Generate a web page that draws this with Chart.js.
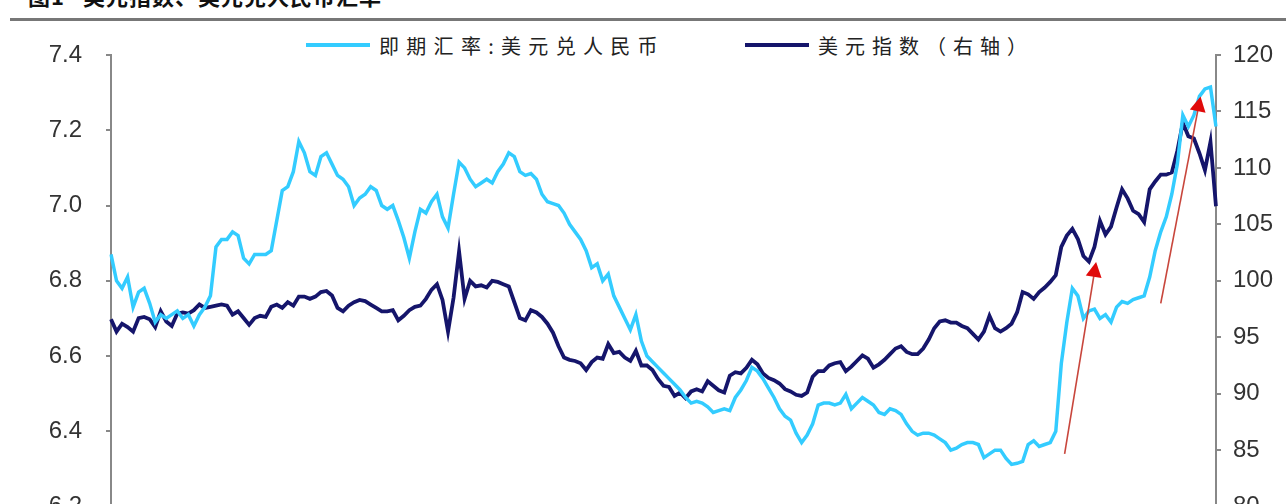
<!DOCTYPE html>
<html lang="zh">
<head>
  <meta charset="UTF-8">
  <title>美元指数、美元兑人民币汇率</title>
  <script src="https://cdn.jsdelivr.net/npm/chart.js"></script>
  <style>
    html, body { margin: 0; padding: 0; background: #fff; }
    body { width: 1286px; height: 504px; overflow: hidden; position: relative; font-family: "Liberation Sans", Arial, sans-serif; }
    #title { position: absolute; left: 28px; top: -17px; font: bold 22px/24px "Noto Sans CJK SC", sans-serif; color: #111; white-space: nowrap; letter-spacing: 1px; }
    #rule { position: absolute; left: 10px; right: 0; top: 18px; height: 3px; background: #777; }
    .leg { position: absolute; top: 33px; height: 24px; display: flex; align-items: center; font: 20px "Noto Sans CJK SC", sans-serif; color: #222; white-space: nowrap; }
    .leg i { display: inline-block; width: 64px; height: 4px; margin-right: 9px; }
    #wrap { position: absolute; left: 0; top: 0; width: 1286px; height: 545px; }
  </style>
</head>
<body>
  <div id="title">图1&nbsp;&nbsp;&nbsp;美元指数、美元兑人民币汇率</div>
  <div id="rule"></div>
  <div class="leg" style="left:306px; letter-spacing:7.3px;"><i style="background:#33CCFF"></i>即期汇率:美元兑人民币</div>
  <div class="leg" style="left:745px; letter-spacing:7px;"><i style="background:#15156b"></i>美元指数（右轴）</div>
  <div id="wrap"><canvas id="fx" width="1286" height="545"></canvas></div>

  <script>
    // weekly observations, Jan 2019 - Nov 2022
    const startDate = new Date(2019, 0, 4);
    const weeks = 201;

    const usdCny = [
      6.87, 6.80, 6.78, 6.81, 6.73, 6.77, 6.78, 6.74, 6.69, 6.71,
      6.70, 6.71, 6.72, 6.70, 6.71, 6.68, 6.71, 6.73, 6.76, 6.89,
      6.91, 6.91, 6.93, 6.92, 6.86, 6.845, 6.87, 6.87, 6.87, 6.88,
      6.96, 7.04, 7.05, 7.09, 7.17, 7.14, 7.09, 7.08, 7.13, 7.14,
      7.11, 7.08, 7.07, 7.05, 7.00, 7.02, 7.03, 7.05, 7.04, 7.00,
      6.99, 7.00, 6.96, 6.915, 6.86, 6.93, 6.99, 6.98, 7.01, 7.03,
      6.97, 6.94, 7.03, 7.115, 7.10, 7.07, 7.05, 7.06, 7.07, 7.06,
      7.09, 7.11, 7.14, 7.13, 7.09, 7.08, 7.085, 7.07, 7.03, 7.01,
      7.005, 7.00, 6.98, 6.95, 6.93, 6.91, 6.88, 6.835, 6.845, 6.80,
      6.818, 6.76, 6.73, 6.70, 6.67, 6.71, 6.64, 6.60, 6.585, 6.57,
      6.555, 6.54, 6.525, 6.51, 6.49, 6.475, 6.48, 6.475, 6.465, 6.45,
      6.455, 6.46, 6.455, 6.49, 6.51, 6.535, 6.57, 6.56, 6.54, 6.515,
      6.49, 6.46, 6.44, 6.43, 6.395, 6.37, 6.39, 6.42, 6.47, 6.475,
      6.475, 6.47, 6.475, 6.498, 6.46, 6.475, 6.49, 6.48, 6.47, 6.45,
      6.445, 6.46, 6.455, 6.445, 6.42, 6.40, 6.39, 6.395, 6.395, 6.39,
      6.38, 6.37, 6.35, 6.355, 6.365, 6.37, 6.37, 6.365, 6.33, 6.34,
      6.35, 6.35, 6.328, 6.312, 6.315, 6.32, 6.365, 6.375, 6.36, 6.365,
      6.37, 6.40, 6.58, 6.69, 6.78, 6.76, 6.70, 6.72, 6.725, 6.70,
      6.71, 6.69, 6.73, 6.745, 6.74, 6.75, 6.755, 6.76, 6.81, 6.88,
      6.93, 6.97, 7.03, 7.11, 7.24, 7.21, 7.24, 7.29, 7.31, 7.315,
      7.21
    ];

    const dollarIndex = [
      96.6, 95.5, 96.2, 95.9, 95.5, 96.7, 96.8, 96.6, 95.9, 97.3,
      96.4, 96.0, 97.1, 97.2, 97.1, 97.4, 97.9, 97.6, 97.7, 97.8,
      97.9, 97.8, 97.0, 97.3, 96.7, 96.1, 96.7, 96.9, 96.8, 97.7,
      97.9, 97.6, 98.1, 97.8, 98.6, 98.6, 98.4, 98.6, 99.0, 99.1,
      98.7, 97.6, 97.3, 97.8, 98.1, 98.3, 98.2, 97.9, 97.6, 97.3,
      97.3, 97.4, 96.5, 96.9, 97.4, 97.7, 97.8, 98.4, 99.2, 99.7,
      98.3, 95.5, 98.5, 102.6, 98.4, 100.0, 99.5, 99.6, 99.4, 100.0,
      99.9, 99.7, 99.5, 98.1, 96.7, 96.5, 97.4, 97.2, 96.8, 96.2,
      95.4, 94.2, 93.2, 93.0, 92.9, 92.7, 92.1, 92.8, 93.2, 93.1,
      94.4, 93.6, 93.7, 93.2, 92.9, 93.8, 92.5, 92.5, 92.1, 91.3,
      90.7, 90.6, 89.8, 90.1, 89.6, 90.2, 90.4, 90.2, 91.1, 90.7,
      90.3, 90.1, 91.6, 91.9, 91.8, 92.3, 93.0, 92.6, 91.8, 91.4,
      91.2, 90.9, 90.4, 90.2, 89.9, 89.8, 90.1, 91.5, 92.0, 92.0,
      92.5, 92.7, 92.8, 92.0, 92.4, 92.9, 93.4, 93.1, 92.3, 92.6,
      93.0, 93.5, 94.0, 94.2, 93.7, 93.5, 93.5, 94.0, 94.8, 95.8,
      96.4, 96.5, 96.3, 96.3, 96.0, 95.8, 95.3, 94.8, 95.5, 96.9,
      95.8, 95.5, 95.8, 96.2, 97.2, 99.0, 98.8, 98.4, 99.0, 99.4,
      99.9, 100.5, 103.0, 104.0, 104.6, 103.7, 102.2, 101.7, 103.0, 105.3,
      104.1, 104.8, 106.5, 108.1, 107.3, 106.2, 105.9, 105.2, 108.1, 108.8,
      109.4, 109.4, 109.6, 111.5, 114.0, 112.8, 112.6, 111.3, 109.8, 112.3,
      106.6
    ];

    const leftTicks = [6.2, 7.4, 0.2];   // min, max, step
    const rightTicks = [80, 120, 5];

    // red arrows: [week index, value on left axis]
    const arrowFrom = [[172.6, 6.34], [190.0, 6.74]];
    const arrowTo = [[178.3, 6.85], [197.2, 7.29]];

    const labels = [];
    for (let i = 0; i < weeks; i++) {
      const d = new Date(startDate.getTime() + i * 7 * 86400000);
      labels.push(d.getFullYear() + '-' + String(d.getMonth() + 1).padStart(2, '0') + '-' + String(d.getDate()).padStart(2, '0'));
    }

    const arrowPlugin = {
      id: 'arrows',
      afterDatasetsDraw(chart) {
        const ctx = chart.ctx, xs = chart.scales.x, ys = chart.scales.y;
        ctx.save();
        arrowFrom.forEach((f, k) => {
          const t = arrowTo[k];
          const x1 = xs.getPixelForValue(f[0]), y1 = ys.getPixelForValue(f[1]);
          const x2 = xs.getPixelForValue(t[0]), y2 = ys.getPixelForValue(t[1]);
          const a = Math.atan2(y2 - y1, x2 - x1);
          ctx.strokeStyle = '#c8463c';
          ctx.lineWidth = 1.6;
          ctx.beginPath();
          ctx.moveTo(x1, y1);
          ctx.lineTo(x2 - 10 * Math.cos(a), y2 - 10 * Math.sin(a));
          ctx.stroke();
          ctx.fillStyle = '#e00a0a';
          ctx.beginPath();
          ctx.moveTo(x2, y2);
          ctx.lineTo(x2 - 15 * Math.cos(a) + 8 * Math.sin(a), y2 - 15 * Math.sin(a) - 8 * Math.cos(a));
          ctx.lineTo(x2 - 15 * Math.cos(a) - 8 * Math.sin(a), y2 - 15 * Math.sin(a) + 8 * Math.cos(a));
          ctx.closePath();
          ctx.fill();
        });
        ctx.restore();
      }
    };

    const tickFont = { family: '"Liberation Sans", Arial, sans-serif', size: 24 };

    new Chart(document.getElementById('fx'), {
      type: 'line',
      data: {
        labels: labels,
        datasets: [
          {
            label: '即期汇率:美元兑人民币',
            data: usdCny,
            yAxisID: 'y',
            borderColor: '#33CCFF',
            borderWidth: 3.5,
            pointRadius: 0,
            tension: 0
          },
          {
            label: '美元指数（右轴）',
            data: dollarIndex,
            yAxisID: 'y1',
            borderColor: '#15156b',
            borderWidth: 3.8,
            pointRadius: 0,
            tension: 0
          }
        ]
      },
      options: {
        responsive: false,
        animation: false,
        layout: { padding: { top: 55, bottom: 15, left: 0, right: 0 } },
        plugins: { legend: { display: false }, tooltip: { enabled: false } },
        scales: {
          x: { display: false, offset: false },
          y: {
            position: 'left',
            min: leftTicks[0], max: leftTicks[1],
            ticks: { stepSize: leftTicks[2], color: '#333', font: tickFont, padding: 24, callback: v => v.toFixed(1) },
            grid: { drawOnChartArea: false, drawTicks: true, tickLength: 5, color: '#888', lineWidth: 2 },
            border: { display: true, color: '#888', width: 2 },
            afterFit: s => { s.width = 111; }
          },
          y1: {
            position: 'right',
            min: rightTicks[0], max: rightTicks[1],
            ticks: { stepSize: rightTicks[2], color: '#333', font: tickFont, padding: 12 },
            grid: { drawOnChartArea: false, drawTicks: true, tickLength: 5, color: '#888', lineWidth: 2 },
            border: { display: true, color: '#888', width: 2 },
            afterFit: s => { s.width = 70; }
          }
        }
      },
      plugins: [arrowPlugin]
    });
  </script>
</body>
</html>
